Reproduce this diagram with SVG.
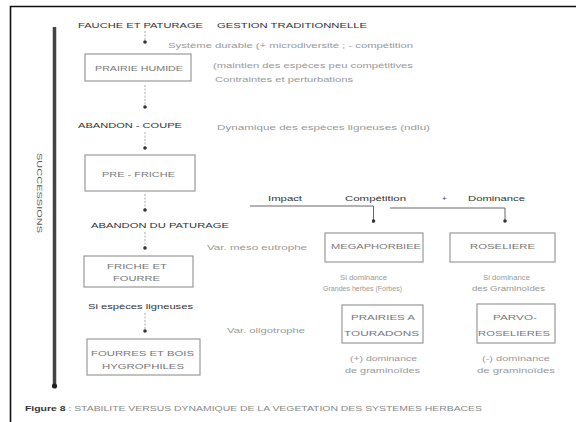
<svg xmlns="http://www.w3.org/2000/svg" width="576" height="422" viewBox="0 0 576 422">
<defs>
<style>
.lbl{font-family:"Liberation Sans",Arial,sans-serif;font-size:8px;fill:#333}
.note{font-family:"Liberation Sans",Arial,sans-serif;font-size:7.5px;fill:#999}
.box{fill:#fff;stroke:#999;stroke-width:1.2}
.bt{font-family:"Liberation Sans",Arial,sans-serif;font-size:7.5px;fill:#777}
.sub{font-family:"Liberation Sans",Arial,sans-serif;font-size:7.5px;fill:#999}
.con{fill:none;stroke:#aaa;stroke-width:1;stroke-dasharray:2 1.5}
.con2{fill:none;stroke:#666;stroke-width:1}
.cap{font-family:"Liberation Sans",Arial,sans-serif;font-size:8px;fill:#888}
</style>
<marker id="dot" markerWidth="4" markerHeight="4" refX="2" refY="2" markerUnits="userSpaceOnUse">
<circle cx="2" cy="2" r="1.8" fill="#333"/>
</marker>
<marker id="big" markerWidth="6" markerHeight="6" refX="3" refY="3" markerUnits="userSpaceOnUse">
<circle cx="3" cy="3" r="2.6" fill="#222"/>
</marker>
</defs>
<rect width="576" height="422" fill="#fff"/>
<path d="M10.5 422 V6.5 H576" fill="none" stroke="#111" stroke-width="1.6"/>

<g id="successions-axis">
<line x1="54.5" y1="27" x2="54.5" y2="386" stroke="#444" stroke-width="3.5" marker-end="url(#big)"/>
<text transform="translate(37,153) rotate(90)" textLength="80" lengthAdjust="spacingAndGlyphs" style="font-family:'Liberation Sans',Arial,sans-serif;font-size:8px;fill:#555">SUCCESSIONS</text>
</g>

<g id="connectors">
<line class="con" x1="145" y1="31" x2="145" y2="42" marker-end="url(#dot)"/>
<line class="con" x1="145" y1="85" x2="145" y2="107" marker-end="url(#dot)"/>
<line class="con" x1="145" y1="132" x2="145" y2="148" marker-end="url(#dot)"/>
<line class="con" x1="145" y1="194" x2="145" y2="210" marker-end="url(#dot)"/>
<line class="con" x1="145" y1="232" x2="145" y2="248" marker-end="url(#dot)"/>
<line class="con" x1="145" y1="313" x2="145" y2="331" marker-end="url(#dot)"/>
<path class="con2" d="M250 206 H373.5 V221" marker-end="url(#dot)"/>
<path class="con2" d="M390 208 H505 V221" marker-end="url(#dot)"/>
</g>

<g id="fauche">
<text class="lbl" x="78" y="28" textLength="125" lengthAdjust="spacingAndGlyphs">FAUCHE ET PATURAGE</text>
<text class="lbl" x="217" y="28" textLength="150" lengthAdjust="spacingAndGlyphs">GESTION TRADITIONNELLE</text>
<text class="note" x="168" y="48" textLength="245" lengthAdjust="spacingAndGlyphs">Système durable (+ microdiversité ; - compétition</text>
</g>

<g id="prairie-humide">
<rect class="box" x="85" y="54" width="106" height="27"/>
<text class="bt" x="95" y="71" textLength="88" lengthAdjust="spacingAndGlyphs">PRAIRIE HUMIDE</text>
<text class="note" x="213" y="68" textLength="200" lengthAdjust="spacingAndGlyphs">(maintien des espèces peu compétitives</text>
<text class="note" x="215" y="82" textLength="138" lengthAdjust="spacingAndGlyphs">Contraintes et perturbations</text>
</g>

<g id="abandon-coupe">
<text class="lbl" x="78" y="128" textLength="104" lengthAdjust="spacingAndGlyphs">ABANDON - COUPE</text>
<text class="note" x="217" y="130" textLength="213" lengthAdjust="spacingAndGlyphs">Dynamique des espèces ligneuses (ndlu)</text>
</g>

<g id="pre-friche">
<rect class="box" x="85" y="155" width="110" height="36"/>
<text class="bt" x="102" y="177" textLength="73" lengthAdjust="spacingAndGlyphs">PRE - FRICHE</text>
</g>

<g id="abandon-paturage">
<text class="lbl" x="91" y="228" textLength="138" lengthAdjust="spacingAndGlyphs">ABANDON DU PATURAGE</text>
<text class="note" x="207" y="250" textLength="100" lengthAdjust="spacingAndGlyphs">Var. méso eutrophe</text>
</g>

<g id="friche-fourre">
<rect class="box" x="84" y="256" width="109" height="31"/>
<text class="bt" x="107" y="269" textLength="60" lengthAdjust="spacingAndGlyphs">FRICHE ET</text>
<text class="bt" x="113" y="281" textLength="47" lengthAdjust="spacingAndGlyphs">FOURRE</text>
</g>

<g id="si-especes">
<text class="lbl" x="88" y="309" textLength="105" lengthAdjust="spacingAndGlyphs">Si espèces ligneuses</text>
<text class="note" x="227" y="333" textLength="78" lengthAdjust="spacingAndGlyphs">Var. oligotrophe</text>
</g>

<g id="fourres-bois">
<rect class="box" x="87" y="339" width="113" height="36"/>
<text class="bt" x="91" y="356" textLength="103" lengthAdjust="spacingAndGlyphs">FOURRES ET BOIS</text>
<text class="bt" x="102" y="369" textLength="82" lengthAdjust="spacingAndGlyphs">HYGROPHILES</text>
</g>

<g id="impact-labels">
<text class="lbl" x="268" y="201" textLength="34" lengthAdjust="spacingAndGlyphs">Impact</text>
<text class="lbl" x="345" y="201" textLength="61" lengthAdjust="spacingAndGlyphs">Compétition</text>
<text class="lbl" x="442" y="201">+</text>
<text class="lbl" x="468" y="201" textLength="57" lengthAdjust="spacingAndGlyphs">Dominance</text>
</g>

<g id="megaphorbiee">
<rect class="box" x="325" y="233" width="98" height="29"/>
<text class="bt" x="331" y="249" textLength="90" lengthAdjust="spacingAndGlyphs">MEGAPHORBIEE</text>
<text class="sub" x="340" y="280" textLength="47" lengthAdjust="spacingAndGlyphs">Si dominance</text>
<text class="sub" x="323" y="291" textLength="79" lengthAdjust="spacingAndGlyphs">Grandes herbes (Forbes)</text>
</g>

<g id="roseliere">
<rect class="box" x="450" y="233" width="105" height="29"/>
<text class="bt" x="470" y="249" textLength="65" lengthAdjust="spacingAndGlyphs">ROSELIERE</text>
<text class="sub" x="483" y="280" textLength="47" lengthAdjust="spacingAndGlyphs">Si dominance</text>
<text class="sub" x="472" y="291" textLength="73" lengthAdjust="spacingAndGlyphs">des Graminoïdes</text>
</g>

<g id="prairies-touradons">
<rect class="box" x="342" y="305" width="81" height="38"/>
<text class="bt" x="351" y="320" textLength="64" lengthAdjust="spacingAndGlyphs">PRAIRIES A</text>
<text class="bt" x="344" y="336" textLength="75" lengthAdjust="spacingAndGlyphs">TOURADONS</text>
<text class="sub" x="350" y="361" textLength="67" lengthAdjust="spacingAndGlyphs">(+) dominance</text>
<text class="sub" x="345" y="373" textLength="75" lengthAdjust="spacingAndGlyphs">de graminoïdes</text>
</g>

<g id="parvo-roselieres">
<rect class="box" x="477" y="304" width="78" height="39"/>
<text class="bt" x="493" y="320" textLength="44" lengthAdjust="spacingAndGlyphs">PARVO-</text>
<text class="bt" x="478" y="336" textLength="72" lengthAdjust="spacingAndGlyphs">ROSELIERES</text>
<text class="sub" x="482" y="361" textLength="68" lengthAdjust="spacingAndGlyphs">(-) dominance</text>
<text class="sub" x="477" y="373" textLength="78" lengthAdjust="spacingAndGlyphs">de graminoïdes</text>
</g>

<g id="caption">
<text class="cap" x="25" y="411" textLength="457" lengthAdjust="spacingAndGlyphs"><tspan style="font-weight:bold;fill:#333">Figure 8</tspan> : STABILITE VERSUS DYNAMIQUE DE LA VEGETATION DES SYSTEMES HERBACES</text>
</g>
</svg>
